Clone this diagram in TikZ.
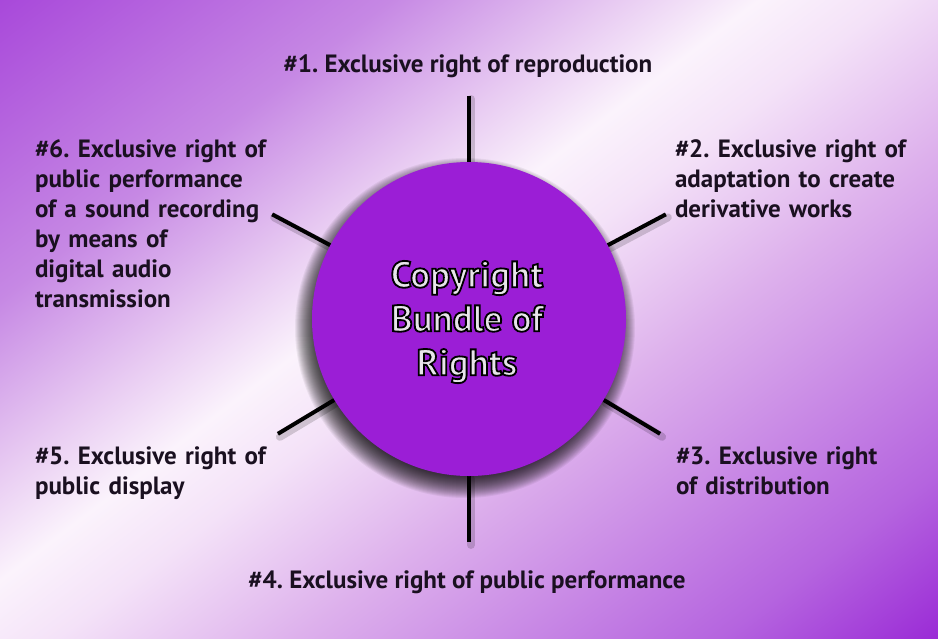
\documentclass[tikz,border=0pt]{standalone}
\usepackage{fontspec}
\setmainfont{PT Sans}
\usetikzlibrary{calc}
\definecolor{p0}{HTML}{A848DA}
\definecolor{p1}{HTML}{C688E4}
\definecolor{p2}{HTML}{E8CBF2}
\definecolor{p3}{HTML}{FBF3FC}
\definecolor{p4}{HTML}{F4E2F8}
\definecolor{p5}{HTML}{DDB0EC}
\definecolor{p6}{HTML}{B564DF}
\definecolor{p7}{HTML}{9A2AD6}
\definecolor{circ}{HTML}{9B1ED6}
\definecolor{txtdark}{HTML}{1A1020}
\pgfdeclarehorizontalshading{bgshade}{1400bp}{color(0bp)=(p0); color(238bp)=(p1); color(376bp)=(p2); color(461bp)=(p3); color(541bp)=(p4); color(687bp)=(p5); color(943bp)=(p6); color(1076bp)=(p7)}
\pgfdeclarelayer{back}
\pgfsetlayers{back,main}
\newcommand\olword[1]{\special{pdf:literal direct 0.91 0.894 0.918 rg 0 0 0 RG 2 Tr 1.8 w}#1\special{pdf:literal direct 0 Tr}}
\begin{document}
\begin{tikzpicture}[x=1pt,y=-1pt,
  lbl/.style={text=txtdark, font=\frenchspacing\bfseries\fontsize{25}{30}\selectfont, inner sep=0, outer sep=0},
  mlbl/.style={lbl, text width=260pt, align=left},
  spoke/.style={line width=4pt, draw=black},
  spokeshade/.style={line width=8pt, draw=black, opacity=0.16, line cap=round},
  hub/.style={circle, fill=circ, minimum size=314pt, inner sep=0, outer sep=0},
  hubtext/.style={text=black, font=\bfseries\fontsize{37}{44}\selectfont, align=center, inner sep=0}
]
\useasboundingbox (0,0) rectangle (938,638);
\node[hub] (c) at (469,319) {};
\foreach \a/\n in {90/1,28/2,-31/3,-90/4,211/5,152/6}
  \coordinate (e\n) at ($(c.center)!1.42!(c.\a)$);
\begin{pgfonlayer}{back}
  \begin{scope}
    \clip (0,0) rectangle (938,638);
    \node[rotate=-52.6, inner sep=0, outer sep=0] (bg) at (426.7,351.2) {\pgfuseshading{bgshade}};
  \end{scope}
  \foreach \k in {0,...,23}{
    \pgfmathsetmacro\rr{170-\k}
    \fill[black, opacity=0.055] (465,328) circle[radius=\rr pt];
  }
  \foreach \a/\n in {90/1,28/2,-31/3,-90/4,211/5,152/6}{
    \draw[spokeshade] ($(c.\a)+(2,3)$) -- ($(e\n)+(2,3)$);
    \draw[spoke] (c.\a) -- (e\n);
  }
\end{pgfonlayer}
\node[hubtext] (ct) at (467,322) {\olword{Copyright}\\\olword{Bundle of}\\\olword{Rights}};
\node[lbl, anchor=base] (t1) at (468,72) {\#1. Exclusive right of reproduction};
\node[mlbl, anchor=base west] (t2) at (675,157) {\#2. Exclusive right of\\adaptation to create\\derivative works};
\node[mlbl, anchor=base west] (t3) at (676,464) {\#3. Exclusive right\\of distribution};
\node[lbl, anchor=base] (t4) at (467,588) {\#4. Exclusive right of public performance};
\node[mlbl, anchor=base west] (t5) at (35,464) {\#5. Exclusive right of\\public display};
\node[mlbl, anchor=base west] (t6) at (35,157) {\#6. Exclusive right of\\public performance\\of a sound recording\\by means of\\digital audio\\transmission};
\end{tikzpicture}
\end{document}
